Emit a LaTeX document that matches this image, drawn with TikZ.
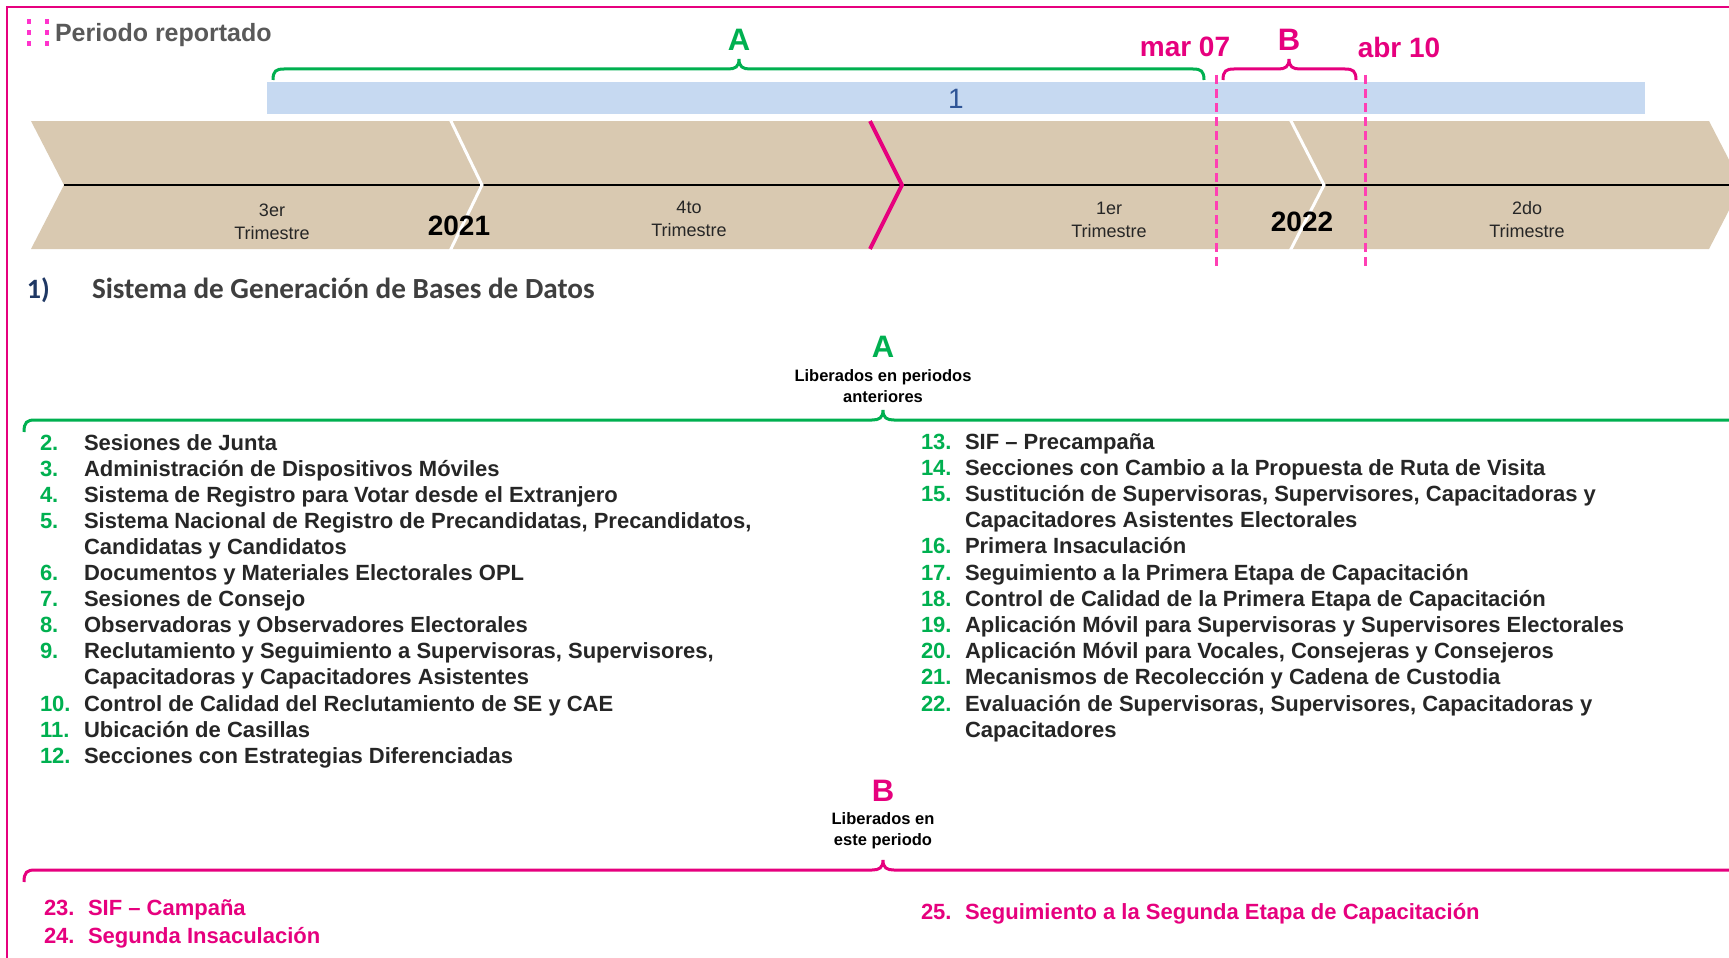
\documentclass[tikz,border=0pt]{standalone}
\usepackage{fontspec}
\setmainfont{Liberation Sans}
\newfontfamily\calfont{Carlito}
\definecolor{inepink}{HTML}{E6007E}
\definecolor{dashpink}{HTML}{FF3FB4}
\definecolor{dotpink}{HTML}{FF33CC}
\definecolor{inegreen}{HTML}{00B050}
\definecolor{tanband}{HTML}{D9C9B1}
\definecolor{barblue}{HTML}{C6D9F1}
\definecolor{navytxt}{HTML}{1F3864}
\definecolor{onecol}{HTML}{2F5597}
\definecolor{txtgray}{HTML}{262626}
\definecolor{headgray}{HTML}{595959}
\definecolor{titlegray}{HTML}{3F3F3F}
\newcommand\itemfont{\fontsize{22}{26}\selectfont\bfseries}
\begin{document}
\begin{tikzpicture}[x=1pt,y=-1pt,
  every node/.style={inner sep=0pt,outer sep=0pt},
  greennum/.style={anchor=base west,text=inegreen,font=\itemfont},
  pinknum/.style={anchor=base west,text=inepink,font=\itemfont},
  itemtxt/.style={anchor=base west,text=txtgray,font=\itemfont},
  pinktxt/.style={anchor=base west,text=inepink,font=\itemfont},
  quarter/.style={align=center,text=txtgray,font=\fontsize{18}{23}\selectfont},
  yearlbl/.style={text=black,font=\fontsize{28}{30}\selectfont\bfseries},
  bigletter/.style={font=\fontsize{31}{33}\selectfont\bfseries},
  datelbl/.style={text=inepink,font=\fontsize{28}{30}\selectfont\bfseries},
  sublbl/.style={align=center,text=black,font=\fontsize{16.5}{21}\selectfont\bfseries},
  greenbrace/.style={draw=inegreen,line width=3pt},
  pinkbrace/.style={draw=inepink,line width=3pt},
  whitechev/.style={draw=white,line width=3pt},
  pinkchev/.style={draw=inepink,line width=4pt},
  markline/.style={draw=dashpink,line width=3pt,dash pattern=on 9pt off 5pt}
]
\path[use as bounding box,clip] (0,0) rectangle (1729,958);
\fill[white] (0,0) rectangle (1729,958);
% frame
\draw[inepink,line width=2pt] (7,7) rectangle (1780,1000);
% header
\foreach \xx in {29,47}{\foreach \yy in {22,33,44}{\fill[dotpink] (\xx-2,\yy-2.5) rectangle (\xx+2,\yy+2.5);}}
\node[anchor=base west,text=headgray,font=\fontsize{25}{28}\selectfont\bfseries] (head) at (55,42) {Periodo reportado};
% blue bar
\fill[barblue] (267,82) rectangle (1645,114);
\node[text=onecol,font=\fontsize{28}{30}\selectfont] (one) at (956,99) {1};
% tan band
\fill[tanband] (31,121) -- (1709,121) -- (1742,185) -- (1709,249) -- (31,249) -- (64,185) -- cycle;
\draw[black,line width=2pt] (64,185) -- (1760,185);
\draw[whitechev] (450,119) -- (482,185) -- (450,251);
\draw[pinkchev] (870,121) -- (902,185) -- (870,249);
\draw[whitechev] (1290,119) -- (1324,185) -- (1290,251);
\node[quarter] (q3) at (272,222) {3er\\Trimestre};
\node[quarter] (q4) at (689,218.5) {4to\\Trimestre};
\node[quarter] (q1) at (1109,219.5) {1er\\Trimestre};
\node[quarter] (q2) at (1527,219.5) {2do\\Trimestre};
\node[yearlbl] (y21) at (459,226) {2021};
\node[yearlbl] (y22) at (1302,222) {2022};
% top braces
\draw[greenbrace] (273,80) .. controls (273,71) and (276,69) .. (284,69) -- (728,69) .. controls (735,69) and (739,67) .. (739,59) .. controls (739,67) and (743,69) .. (750,69) -- (1193,69) .. controls (1201,69) and (1204,71) .. (1204,80);
\draw[pinkbrace] (1223,80) .. controls (1223,71) and (1226,69) .. (1234,69) -- (1278,69) .. controls (1285,69) and (1289,67) .. (1289,59) .. controls (1289,67) and (1293,69) .. (1300,69) -- (1345,69) .. controls (1353,69) and (1356,71) .. (1356,80);
\node[bigletter,text=inegreen] (topA) at (739,40) {A};
\node[bigletter,text=inepink] (topB) at (1289,40) {B};
\node[datelbl] (mar) at (1185,47) {mar 07};
\node[datelbl] (abr) at (1399,47) {abr 10};
% dashed markers
\draw[markline] (1216,75) -- (1216,267);
\draw[markline] (1365,75) -- (1365,267);
% title
\node[anchor=base west,text=navytxt,font=\calfont\fontsize{28}{30}\selectfont\bfseries] (num1) at (27,298) {1)};
\node[anchor=base west,text=titlegray,font=\calfont\fontsize{29.2}{31}\selectfont\bfseries] (title) at (92,298) {Sistema de Generación de Bases de Datos};
% section A
\node[bigletter,text=inegreen] (secA) at (883,347) {A};
\node[sublbl] (subA) at (883,386.5) {Liberados en periodos\\anteriores};
\draw[greenbrace] (24,432) .. controls (24,422) and (27,420) .. (35,420) -- (872,420) .. controls (879,420) and (883,418) .. (883,410) .. controls (883,418) and (887,420) .. (894,420) -- (1760,420);
% left column
\node[greennum] (n2) at (40,450) {2.};
\node[itemtxt] (t2) at (84,450) {Sesiones de Junta};
\node[greennum] (n3) at (40,476.1) {3.};
\node[itemtxt] (t3) at (84,476.1) {Administración de Dispositivos Móviles};
\node[greennum] (n4) at (40,502.2) {4.};
\node[itemtxt] (t4) at (84,502.2) {Sistema de Registro para Votar desde el Extranjero};
\node[greennum] (n5) at (40,528.3) {5.};
\node[itemtxt] (t5) at (84,528.3) {Sistema Nacional de Registro de Precandidatas, Precandidatos,};
\node[itemtxt] (t5b) at (84,554.4) {Candidatas y Candidatos};
\node[greennum] (n6) at (40,580.5) {6.};
\node[itemtxt] (t6) at (84,580.5) {Documentos y Materiales Electorales OPL};
\node[greennum] (n7) at (40,606.6) {7.};
\node[itemtxt] (t7) at (84,606.6) {Sesiones de Consejo};
\node[greennum] (n8) at (40,632.7) {8.};
\node[itemtxt] (t8) at (84,632.7) {Observadoras y Observadores Electorales};
\node[greennum] (n9) at (40,658.8) {9.};
\node[itemtxt] (t9) at (84,658.8) {Reclutamiento y Seguimiento a Supervisoras, Supervisores,};
\node[itemtxt] (t9b) at (84,684.9) {Capacitadoras y Capacitadores Asistentes};
\node[greennum] (n10) at (40,711) {10.};
\node[itemtxt] (t10) at (84,711) {Control de Calidad del Reclutamiento de SE y CAE};
\node[greennum] (n11) at (40,737.1) {11.};
\node[itemtxt] (t11) at (84,737.1) {Ubicación de Casillas};
\node[greennum] (n12) at (40,763.2) {12.};
\node[itemtxt] (t12) at (84,763.2) {Secciones con Estrategias Diferenciadas};
% right column
\node[greennum] (n13) at (921,449) {13.};
\node[itemtxt] (t13) at (965,449) {SIF – Precampaña};
\node[greennum] (n14) at (921,475.2) {14.};
\node[itemtxt] (t14) at (965,475.2) {Secciones con Cambio a la Propuesta de Ruta de Visita};
\node[greennum] (n15) at (921,501.4) {15.};
\node[itemtxt] (t15) at (965,501.4) {Sustitución de Supervisoras, Supervisores, Capacitadoras y};
\node[itemtxt] (t15b) at (965,527.6) {Capacitadores Asistentes Electorales};
\node[greennum] (n16) at (921,553.8) {16.};
\node[itemtxt] (t16) at (965,553.8) {Primera Insaculación};
\node[greennum] (n17) at (921,580) {17.};
\node[itemtxt] (t17) at (965,580) {Seguimiento a la Primera Etapa de Capacitación};
\node[greennum] (n18) at (921,606.2) {18.};
\node[itemtxt] (t18) at (965,606.2) {Control de Calidad de la Primera Etapa de Capacitación};
\node[greennum] (n19) at (921,632.4) {19.};
\node[itemtxt] (t19) at (965,632.4) {Aplicación Móvil para Supervisoras y Supervisores Electorales};
\node[greennum] (n20) at (921,658.6) {20.};
\node[itemtxt] (t20) at (965,658.6) {Aplicación Móvil para Vocales, Consejeras y Consejeros};
\node[greennum] (n21) at (921,684.8) {21.};
\node[itemtxt] (t21) at (965,684.8) {Mecanismos de Recolección y Cadena de Custodia};
\node[greennum] (n22) at (921,711) {22.};
\node[itemtxt] (t22) at (965,711) {Evaluación de Supervisoras, Supervisores, Capacitadoras y};
\node[itemtxt] (t22b) at (965,737.2) {Capacitadores};
% section B
\node[bigletter,text=inepink] (secB) at (883,791) {B};
\node[sublbl] (subB) at (883,830.5) {Liberados en\\este periodo};
\draw[pinkbrace] (24,882) .. controls (24,872) and (27,870) .. (35,870) -- (872,870) .. controls (879,870) and (883,868) .. (883,860) .. controls (883,868) and (887,870) .. (894,870) -- (1760,870);
\node[pinknum] (n23) at (44,915) {23.};
\node[pinktxt] (t23) at (88,915) {SIF – Campaña};
\node[pinknum] (n24) at (44,943) {24.};
\node[pinktxt] (t24) at (88,943) {Segunda Insaculación};
\node[pinknum] (n25) at (921,919) {25.};
\node[pinktxt] (t25) at (965,919) {Seguimiento a la Segunda Etapa de Capacitación};
\end{tikzpicture}
\end{document}
